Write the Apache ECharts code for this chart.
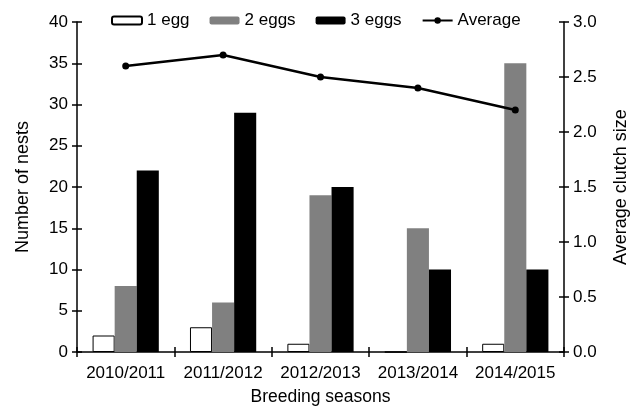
<!DOCTYPE html>
<html>
<head>
<meta charset="utf-8">
<script src="https://cdn.jsdelivr.net/npm/echarts@6/dist/echarts.min.js"></script>
<style>
html, body { margin: 0; padding: 0; background: #fff; }
#chart { width: 636px; height: 407px; }
</style>
</head>
<body>
<div id="chart"></div>
<script>
// breeding data
var seasons = ['2010/2011', '2011/2012', '2012/2013', '2013/2014', '2014/2015']
var oneEgg = [2, 3, 1, 0, 1]
var twoEggs = [8, 6, 19, 15, 35]
var threeEggs = [22, 29, 20, 10, 10]
var average = [2.6, 2.7, 2.5, 2.4, 2.2]

var font = 'Liberation Sans, Arial, sans-serif'
var axisLine = { show: true, onZero: false, lineStyle: { color: '#000', width: 1.5 } }
var tickOut = { show: true, length: 5, lineStyle: { color: '#000', width: 1.5 } }
var tickIn = { show: true, inside: true, length: 5, lineStyle: { color: '#000', width: 1.5 } }

var chart = echarts.init(document.getElementById('chart'))
chart.setOption({
    animation: false,
    textStyle: { fontFamily: font, color: '#000' },
    grid: { left: 77, right: 72, top: 22, bottom: 55, outerBoundsMode: 'none', containLabel: false },
    legend: {
        top: 7,
        left: 106,
        itemWidth: 30,
        itemHeight: 8,
        itemGap: 20,
        textStyle: { fontSize: 17, color: '#000', fontFamily: font },
        data: ['1 egg', '2 eggs', '3 eggs', 'Average']
    },
    xAxis: [{
        type: 'category',
        data: seasons,
        position: 'bottom',
        name: 'Breeding seasons',
        nameLocation: 'middle',
        nameGap: 36,
        nameTextStyle: { fontSize: 17.5, color: '#000' },
        axisLine: axisLine,
        axisTick: tickOut,
        axisLabel: { fontSize: 17, color: '#000', margin: 13, interval: 0 }
    }, {
        type: 'category',
        data: seasons,
        position: 'bottom',
        axisLine: { show: false },
        axisTick: tickIn,
        axisLabel: { show: false }
    }],
    yAxis: [{
        type: 'value',
        min: 0, max: 40, interval: 5,
        position: 'left',
        name: 'Number of nests',
        nameLocation: 'middle',
        nameGap: 45,
        nameTextStyle: { fontSize: 18, color: '#000' },
        axisLine: axisLine,
        axisTick: tickOut,
        axisLabel: { fontSize: 17, color: '#000', margin: 9 },
        splitLine: { show: false }
    }, {
        type: 'value',
        min: 0, max: 40, interval: 5,
        position: 'left',
        axisLine: { show: false },
        axisTick: tickIn,
        axisLabel: { show: false },
        splitLine: { show: false }
    }, {
        type: 'value',
        min: 0, max: 3, interval: 0.5,
        position: 'right',
        name: 'Average clutch size',
        nameLocation: 'middle',
        nameGap: 48,
        nameRotate: 90,
        nameTextStyle: { fontSize: 18, color: '#000' },
        axisLine: axisLine,
        axisTick: tickOut,
        axisLabel: { fontSize: 17, color: '#000', margin: 9, formatter: function (v) { return v.toFixed(1) } },
        splitLine: { show: false }
    }, {
        type: 'value',
        min: 0, max: 3, interval: 0.5,
        position: 'right',
        axisLine: { show: false },
        axisTick: tickIn,
        axisLabel: { show: false },
        splitLine: { show: false }
    }],
    series: [{
        name: '1 egg',
        type: 'bar',
        data: oneEgg,
        barGap: '0%',
        barCategoryGap: '32%',
        itemStyle: { color: '#fff', borderColor: '#000', borderWidth: 1 }
    }, {
        name: '2 eggs',
        type: 'bar',
        data: twoEggs,
        barGap: '0%',
        barCategoryGap: '32%',
        itemStyle: { color: '#808080' }
    }, {
        name: '3 eggs',
        type: 'bar',
        data: threeEggs,
        barGap: '0%',
        barCategoryGap: '32%',
        itemStyle: { color: '#000' }
    }, {
        name: 'Average',
        type: 'line',
        yAxisIndex: 2,
        data: average,
        symbol: 'circle',
        symbolSize: 7,
        lineStyle: { color: '#000', width: 2.5 },
        itemStyle: { color: '#000' }
    }]
})
</script>
</body>
</html>
